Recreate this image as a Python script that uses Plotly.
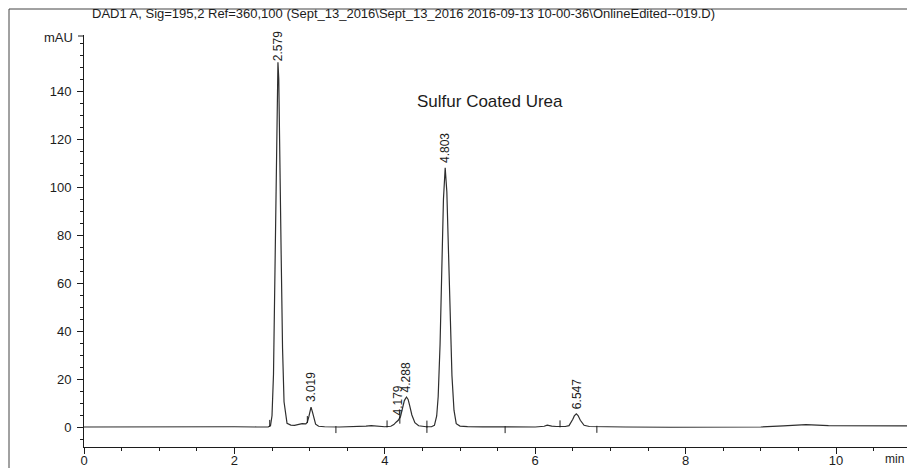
import plotly.graph_objects as go

# ---- data ----
time_min = [0.0, 0.5, 1.0, 1.5, 2.0, 2.3, 2.45, 2.48, 2.50, 2.52, 2.54, 2.55, 2.56, 2.57, 2.579,
            2.59, 2.60, 2.61, 2.62, 2.64, 2.66, 2.70, 2.75, 2.80, 2.85, 2.90, 2.95, 2.97, 2.99,
            3.00, 3.019, 3.04, 3.06, 3.08, 3.12, 3.2, 3.4, 3.6, 3.75, 3.82, 3.9, 4.0, 4.08, 4.12,
            4.15, 4.179, 4.21, 4.24, 4.26, 4.288, 4.31, 4.33, 4.36, 4.40, 4.45, 4.55, 4.62, 4.66,
            4.69, 4.71, 4.735, 4.758, 4.78, 4.803, 4.825, 4.848, 4.87, 4.893, 4.92, 4.95, 5.0,
            5.1, 5.3, 5.6, 6.0, 6.12, 6.16, 6.22, 6.28, 6.4, 6.45, 6.5, 6.52, 6.547, 6.57, 6.6,
            6.65, 6.72, 6.85, 7.2, 7.8, 8.5, 9.0, 9.3, 9.6, 9.9, 10.2, 10.6, 11.0]
signal_mau = [0.0, 0.1, 0.2, 0.3, 0.1, 0.0, 0.0, 0.6, 4.7, 22, 65, 95, 124, 145, 152,
              145, 127, 103, 76, 33, 10.5, 1.5, 0.8, 0.7, 1.2, 1.4, 1.3, 2.0, 4.3,
              5.7, 8.3, 6.0, 3.0, 1.2, 0.3, 0.1, 0.0, 0.1, 0.4, 0.6, 0.3, 0.1, 0.3, 1.0,
              2.0, 2.8, 4.5, 8.5, 11.0, 12.5, 11.5, 9.0, 5.0, 1.8, 0.5, 0.1, 0.1, 0.7,
              4.6, 12.7, 34.5, 65.5, 95, 108, 98, 72, 44, 21.4, 7.0, 1.4, 0.4,
              0.15, 0.05, 0.0, 0.0, 0.3, 0.8, 0.4, 0.2, 0.2, 0.55, 3.2, 4.6, 5.5, 4.8, 2.8,
              0.7, 0.2, 0.1, 0.0, -0.1, -0.2, 0.0, 0.5, 1.0, 0.6, 0.5, 0.5, 0.5]

peak_times = [2.579, 3.019, 4.179, 4.288, 4.803, 6.547]
peak_heights = [152, 8.3, 2.8, 12.5, 108, 5.5]
peak_labels = ["2.579", "3.019", "4.179", "4.288", "4.803", "6.547"]

event_start_times = [2.47, 2.97, 4.03, 4.20, 4.56, 6.33]
event_end_times = [3.35, 4.20, 4.56, 5.60, 6.82]

x_tick_vals = [0, 2, 4, 6, 8, 10]
y_tick_vals = [0, 20, 40, 60, 80, 100, 120, 140]

title_text = ("DAD1 A, Sig=195,2 Ref=360,100 (Sept_13_2016\\Sept_13_2016 "
              "2016-09-13 10-00-36\\OnlineEdited--019.D)")
sample_text = "Sulfur Coated Urea"

# ---- figure ----
FONT = "Liberation Sans, Arial, sans-serif"
INK = "#1c1c1c"
W, H = 907, 468
L, R, T, B = 84, 0, 35, 21
plot_w, plot_h = W - L - R, H - T - B


def px_x(p):
    return (p - L) / plot_w


def px_y(p):
    return (H - B - p) / plot_h


fig = go.Figure()
fig.add_trace(go.Scatter(x=time_min, y=signal_mau, mode="lines",
                         line=dict(color="#2e2e2e", width=1.2), hoverinfo="skip",
                         showlegend=False))


def sig_at(t):
    for i in range(len(time_min) - 1):
        if time_min[i] <= t <= time_min[i + 1]:
            f = (t - time_min[i]) / (time_min[i + 1] - time_min[i])
            return signal_mau[i] + f * (signal_mau[i + 1] - signal_mau[i])
    return 0.0


fig.add_trace(go.Scatter(x=event_start_times, y=[sig_at(t) + 1.1 for t in event_start_times],
                         mode="markers", marker=dict(symbol="line-ns", size=5,
                                                     line=dict(color=INK, width=1)),
                         hoverinfo="skip", showlegend=False))
fig.add_trace(go.Scatter(x=event_end_times, y=[sig_at(t) - 1.1 for t in event_end_times],
                         mode="markers", marker=dict(symbol="line-ns", size=5,
                                                     line=dict(color=INK, width=1)),
                         hoverinfo="skip", showlegend=False))

annotations = []
for t, h, lab in zip(peak_times, peak_heights, peak_labels):
    annotations.append(dict(x=t, y=h, xref="x", yref="y", text=lab, showarrow=False,
                            textangle=-90, xanchor="center", yanchor="middle",
                            yshift=16 if h > 140 else 20,
                            font=dict(family=FONT, size=12, color=INK)))
annotations.append(dict(x=px_x(90), y=px_y(14), xref="paper", yref="paper", text=title_text,
                        showarrow=False, xanchor="left", yanchor="middle",
                        font=dict(family=FONT, size=13, color=INK)))
annotations.append(dict(x=px_x(490), y=px_y(101), xref="paper", yref="paper", text=sample_text,
                        showarrow=False, xanchor="center", yanchor="middle",
                        font=dict(family=FONT, size=17, color=INK)))
annotations.append(dict(x=px_x(75), y=px_y(37), xref="paper", yref="paper", text="mAU",
                        showarrow=False, xanchor="right", yanchor="middle",
                        font=dict(family=FONT, size=13, color=INK)))
annotations.append(dict(x=px_x(906), y=px_y(459), xref="paper", yref="paper", text="min",
                        showarrow=False, xanchor="right", yanchor="middle",
                        font=dict(family=FONT, size=12, color=INK)))

shapes = [
    dict(type="line", xref="paper", yref="paper", x0=px_x(9), x1=1.0, y0=px_y(9), y1=px_y(9),
         line=dict(color="#444", width=1)),
    dict(type="line", xref="paper", yref="paper", x0=px_x(9), x1=px_x(9), y0=px_y(9),
         y1=px_y(468), line=dict(color="#444", width=1)),
    dict(type="line", xref="paper", yref="paper", x0=0, x1=px_x(78), y0=px_y(36), y1=px_y(36),
         line=dict(color=INK, width=1)),
]

fig.update_layout(
    width=W, height=H,
    margin=dict(l=L, r=R, t=T, b=B, pad=0, autoexpand=False),
    paper_bgcolor="white", plot_bgcolor="white",
    font=dict(family=FONT, size=13, color=INK),
    annotations=annotations, shapes=shapes, showlegend=False,
    xaxis=dict(range=[0, (W - L - R) / 75.2], showline=True, linecolor=INK, linewidth=1,
               automargin=False,
               ticks="outside", ticklen=6, tickcolor=INK, tickwidth=1,
               tickmode="array", tickvals=x_tick_vals, ticktext=[str(v) for v in x_tick_vals],
               tickfont=dict(family=FONT, size=13, color=INK), ticklabelstandoff=-5,
               minor=dict(tickmode="linear", tick0=0, dtick=0.5, ticklen=3, tickcolor=INK,
                          ticks="outside", showgrid=False),
               showgrid=False, zeroline=False, mirror=False),
    yaxis=dict(range=[-(447 - 427) / 2.4, (427 - 35) / 2.4], showline=True, linecolor=INK,
               linewidth=1, automargin=False,
               ticks="outside", ticklen=6, tickcolor=INK, tickwidth=1,
               tickmode="array", tickvals=y_tick_vals, ticktext=[str(v) for v in y_tick_vals],
               tickfont=dict(family=FONT, size=13, color=INK), ticklabelstandoff=3,
               minor=dict(tickmode="linear", tick0=0, dtick=5, ticklen=3, tickcolor=INK,
                          ticks="outside", showgrid=False),
               showgrid=False, zeroline=False),
)

fig.write_html("out.html", config={"displayModeBar": False},
               post_script="document.body.style.margin='0px';"
               "document.body.style.overflow='hidden';")
